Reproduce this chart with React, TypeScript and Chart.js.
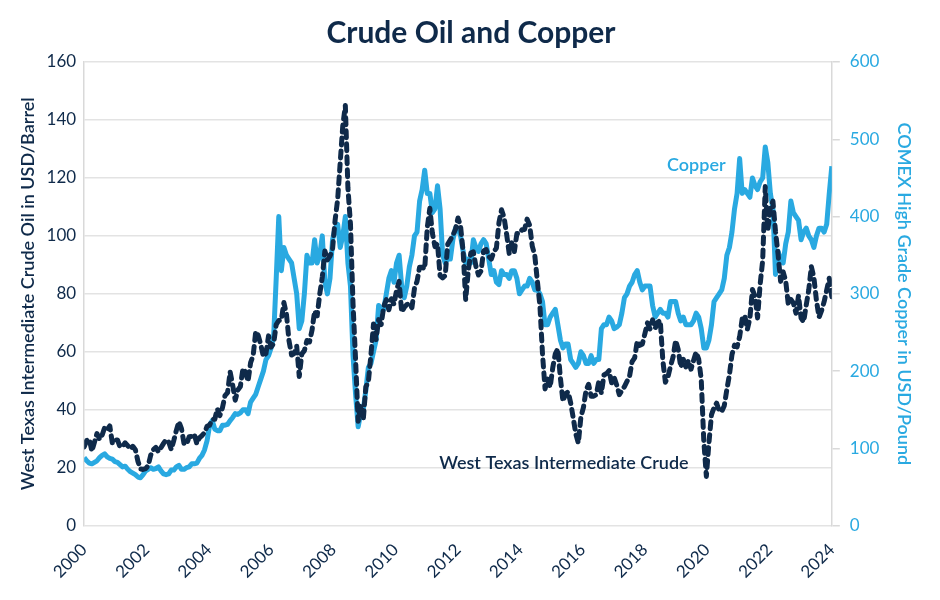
import { useEffect, useRef } from "react";
import { Chart, registerables } from "chart.js";

Chart.register(...registerables);

const NAVY = "#0f2a4a";
const BLUE = "#29a9e1";
const FONT = "Lato, 'Open Sans', sans-serif";

// monthly, Jan 2000 .. May 2024 (USD/barrel)
const wti = [
  27.2, 29.4, 29.9, 25.7, 28.8, 31.8, 29.8, 31.2, 33.9, 33.1, 34.4, 28.5,
  29.6, 29.6, 27.2, 27.4, 28.6, 27.6, 26.4, 27.4, 26.2, 22.2, 19.6, 19.4,
  19.7, 20.7, 24.4, 26.2, 27.0, 25.5, 26.9, 28.4, 29.7, 28.9, 26.3, 29.4,
  32.9, 35.9, 33.5, 28.3, 28.1, 30.7, 30.8, 31.6, 28.3, 30.3, 31.1, 32.1,
  34.3, 34.7, 36.7, 36.7, 40.3, 38.0, 40.7, 44.9, 45.9, 53.1, 48.5, 43.3,
  46.8, 48.0, 54.2, 53.0, 49.8, 56.3, 58.7, 67.0, 65.6, 62.4, 58.3, 59.4,
  65.5, 61.6, 62.9, 69.4, 70.8, 70.9, 77.0, 73.0, 63.8, 58.9, 59.4, 62.0,
  51.5, 59.3, 60.4, 63.9, 63.4, 67.5, 74.1, 72.4, 79.9, 85.8, 94.8, 91.7,
  93.0, 95.4, 105.4, 112.6, 125.4, 138.0, 145.0, 116.7, 104.1, 76.6, 57.3, 36.0,
  41.7, 36.5, 47.9, 49.7, 59.0, 69.6, 64.2, 71.1, 69.4, 75.7, 78.0, 74.5,
  78.3, 76.4, 81.2, 84.3, 73.7, 75.3, 76.3, 76.6, 75.2, 81.9, 84.3, 89.2,
  89.2, 88.6, 102.9, 109.5, 100.9, 96.3, 97.3, 86.3, 85.5, 86.3, 97.2, 98.6,
  100.3, 102.2, 106.2, 103.3, 94.7, 78.0, 87.9, 94.1, 94.5, 89.5, 86.5, 87.9,
  94.8, 95.3, 92.9, 92.0, 94.5, 95.8, 104.6, 109.0, 106.3, 100.5, 93.9, 97.6,
  94.6, 100.8, 100.8, 102.1, 102.2, 105.8, 103.6, 96.5, 93.2, 84.4, 75.8, 59.3,
  47.2, 50.6, 47.8, 54.5, 59.3, 61.0, 50.9, 42.9, 45.5, 46.2, 42.4, 37.2,
  31.7, 28.5, 37.5, 40.8, 46.7, 48.8, 44.7, 44.7, 45.2, 49.8, 45.7, 52.0,
  52.5, 53.5, 49.3, 51.1, 48.5, 45.2, 46.6, 48.0, 49.8, 51.6, 56.6, 57.9,
  63.7, 62.2, 62.7, 66.3, 70.0, 67.9, 71.0, 68.1, 70.2, 70.8, 57.0, 49.5,
  51.4, 55.0, 58.2, 63.9, 60.8, 54.7, 57.4, 54.8, 57.0, 54.0, 57.0, 59.9,
  57.5, 50.5, 29.2, 17.0, 28.5, 38.3, 40.7, 42.3, 39.6, 39.4, 41.4, 47.0,
  52.0, 59.0, 62.3, 61.7, 65.2, 71.4, 72.5, 67.7, 71.6, 81.5, 79.2, 71.7,
  83.2, 91.6, 117.0, 101.8, 109.6, 112.0, 101.6, 93.7, 84.3, 87.6, 84.4, 76.4,
  78.1, 76.8, 73.3, 79.4, 71.6, 70.3, 76.1, 81.4, 89.4, 85.6, 77.7, 71.9,
  74.2, 77.3, 81.3, 85.4, 79.0,
];

// monthly, Jan 2000 .. May 2024 (US cents/pound)
const copper = [
  88, 84, 81, 80, 82, 84, 88, 91, 93, 89, 87, 86,
  83, 82, 79, 76, 77, 73, 70, 68, 66, 63, 62, 66,
  71, 73, 75, 73, 74, 76, 71, 67, 66, 67, 72, 72,
  76, 78, 73, 73, 75, 76, 80, 80, 81, 87, 91, 98,
  110, 130, 136, 125, 123, 123, 130, 130, 131, 136, 140, 145,
  144, 146, 150, 150, 145, 160, 165, 170, 180, 190, 200, 215,
  220, 230, 245, 320, 400, 330, 360, 350, 345, 340, 320, 300,
  255, 265, 300, 350, 340, 340, 370, 340, 350, 375, 315, 300,
  320, 370, 385, 390, 360, 375, 400, 340, 310, 220, 170, 128,
  145, 150, 175, 205, 210, 225, 240, 285, 280, 280, 300, 320,
  330, 315, 340, 350, 310, 295, 310, 335, 350, 375, 380, 420,
  435, 460, 430, 430, 405, 410, 440, 410, 350, 340, 345, 345,
  370, 385, 385, 375, 355, 340, 345, 340, 370, 360, 355, 365,
  370, 365, 345, 325, 330, 315, 312, 330, 325, 325, 320, 330,
  330, 320, 300, 305, 310, 310, 320, 315, 305, 305, 300, 290,
  260, 260, 270, 275, 280, 260, 240, 230, 235, 235, 215, 210,
  205, 210, 225, 220, 210, 210, 220, 210, 215, 215, 255, 260,
  260, 270, 265, 255, 257, 260, 275, 295, 300, 310, 315, 325,
  330, 315, 305, 310, 310, 310, 285, 270, 275, 280, 275, 275,
  270, 290, 290, 290, 275, 265, 270, 260, 260, 260, 265, 275,
  270, 255, 230, 230, 240, 260, 290, 295, 300, 305, 320, 350,
  360, 380, 410, 430, 475, 430, 435, 430, 425, 450, 440, 435,
  445, 450, 490, 470, 430, 410, 325, 355, 345, 340, 365, 380,
  420, 405, 400, 395, 370, 380, 385, 375, 370, 360, 375, 385,
  385, 380, 390, 430, 465,
];

const yearTicks = [2000, 2002, 2004, 2006, 2008, 2010, 2012, 2014, 2016, 2018, 2020, 2022, 2024];

// text labels placed on the chart, in data units
const notes = [
  { text: "Copper", x: 2019.65, y: 466, axis: "y1", color: BLUE },
  { text: "West Texas Intermediate Crude", x: 2015.4, y: 21.4, axis: "y", color: NAVY },
];

// spread the monthly points over the 2000..2024 axis
const xs = wti.map((_, i) => 2000 + (i * 24) / (wti.length - 1));

const notesPlugin = {
  id: "notes",
  afterDatasetsDraw(chart) {
    const { ctx, scales } = chart;
    ctx.save();
    ctx.font = `600 18px ${FONT}`;
    ctx.textAlign = "center";
    ctx.textBaseline = "middle";
    notes.forEach((n) => {
      ctx.fillStyle = n.color;
      ctx.fillText(n.text, scales.x.getPixelForValue(n.x), scales[n.axis].getPixelForValue(n.y));
    });
    ctx.restore();
  },
};

const App = () => {
  const canvasRef = useRef(null);
  const chartRef = useRef(null);

  useEffect(() => {
    if (chartRef.current) chartRef.current.destroy();
    const ctx = canvasRef.current.getContext("2d");
    chartRef.current = new Chart(ctx, {
      type: "line",
      data: {
        datasets: [
          {
            label: "West Texas Intermediate Crude",
            data: wti.map((v, i) => ({ x: xs[i], y: v })),
            yAxisID: "y",
            borderColor: NAVY,
            backgroundColor: NAVY,
            borderWidth: 5,
            borderDash: [7, 6],
            borderCapStyle: "round",
            borderJoinStyle: "round",
            pointRadius: 0,
            tension: 0,
            order: 0,
          },
          {
            label: "Copper",
            data: copper.map((v, i) => ({ x: xs[i], y: v })),
            yAxisID: "y1",
            borderColor: BLUE,
            backgroundColor: BLUE,
            borderWidth: 5,
            borderJoinStyle: "round",
            pointRadius: 0,
            tension: 0,
            order: 1,
          },
        ],
      },
      options: {
        animation: false,
        responsive: true,
        maintainAspectRatio: false,
        layout: { padding: { top: 4, right: 11, left: 13, bottom: 12 } },
        plugins: {
          legend: { display: false },
          tooltip: { enabled: false },
          title: {
            display: true,
            text: "Crude Oil and Copper",
            color: NAVY,
            font: { family: FONT, size: 30, weight: "bold" },
            padding: { top: 11, bottom: 11 },
          },
        },
        scales: {
          x: {
            type: "linear",
            min: 2000,
            max: 2024,
            afterBuildTicks: (axis) => {
              axis.ticks = yearTicks.map((v) => ({ value: v }));
            },
            grid: { display: false },
            border: { display: false },
            ticks: {
              color: NAVY,
              font: { family: FONT, size: 17 },
              maxRotation: 45,
              minRotation: 45,
              padding: 6,
              callback: (v) => String(v),
            },
          },
          y: {
            position: "left",
            min: 0,
            max: 160,
            ticks: { stepSize: 20, color: NAVY, font: { family: FONT, size: 17 }, padding: 8 },
            grid: { color: "#e3e3e3", lineWidth: 1.5, drawTicks: false },
            border: { color: "#d9d9d9", width: 1.5 },
            title: {
              display: true,
              text: "West Texas Intermediate Crude Oil in USD/Barrel",
              color: NAVY,
              font: { family: FONT, size: 18, weight: "600" },
              padding: { bottom: 0 },
            },
          },
          y1: {
            position: "right",
            min: 0,
            max: 600,
            ticks: { stepSize: 100, color: BLUE, font: { family: FONT, size: 17 }, padding: 10 },
            grid: { drawOnChartArea: false, color: "#d9d9d9", lineWidth: 1.5, tickLength: 8 },
            border: { color: "#d9d9d9", width: 1.5 },
            title: {
              display: true,
              text: "COMEX High Grade Copper in USD/Pound",
              color: BLUE,
              font: { family: FONT, size: 18, weight: "600" },
              padding: { top: 14 },
            },
          },
        },
      },
      plugins: [notesPlugin],
    });
    return () => {
      if (chartRef.current) chartRef.current.destroy();
    };
  }, []);

  return (
    <div style={{ position: "absolute", left: 0, top: 0, width: 940, height: 600, background: "#fff" }}>
      <canvas ref={canvasRef} />
    </div>
  );
};

export default App;
